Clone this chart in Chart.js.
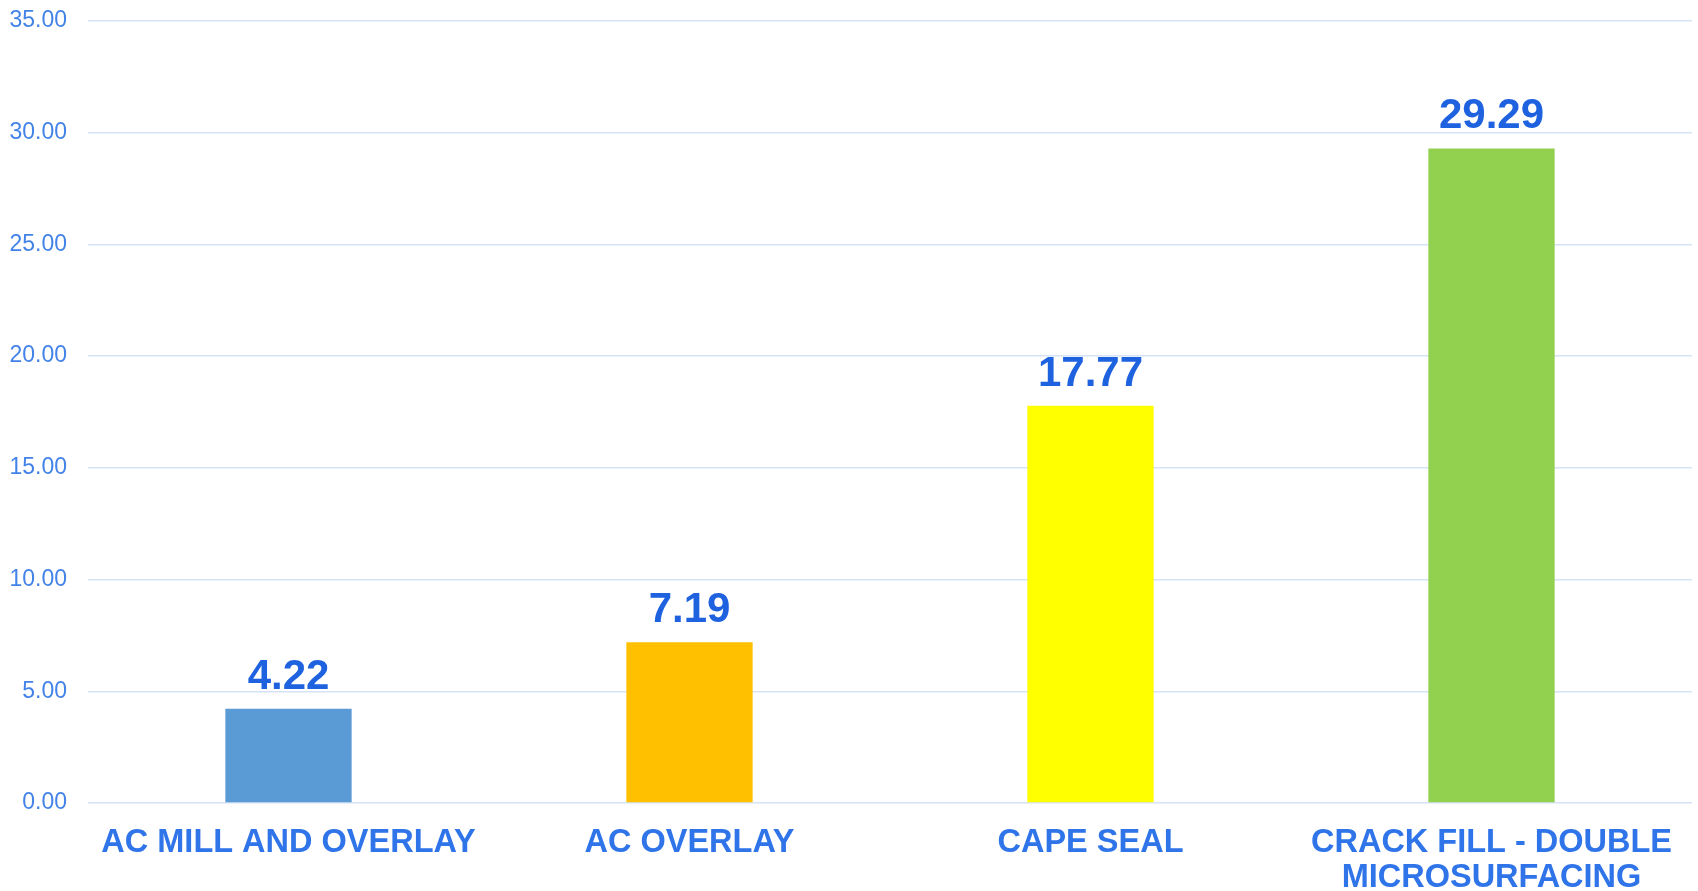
<!DOCTYPE html>
<html>
<head>
<meta charset="utf-8">
<script src="https://cdn.jsdelivr.net/npm/chart.js@4/dist/chart.umd.min.js"></script>
<style>
html,body{margin:0;padding:0;background:#fff;overflow:hidden;}
#wrap{width:1698px;height:891px;position:relative;overflow:hidden;}
#c{position:absolute;left:0;top:-14px;}
</style>
</head>
<body>
<div id="wrap"><canvas id="c" width="1698" height="905"></canvas></div>
<script>
const categories = [
  "AC MILL AND OVERLAY",
  "AC OVERLAY",
  "CAPE SEAL",
  ["CRACK FILL - DOUBLE", "MICROSURFACING"]
];
const values = [4.22, 7.19, 17.77, 29.29];
const barColors = ["#5B9BD5", "#FFC000", "#FFFF00", "#92D050"];
const yTicks = { min: 0, max: 35, step: 5 };

const valueLabels = {
  id: "valueLabels",
  afterDatasetsDraw(chart) {
    const ctx = chart.ctx;
    const meta = chart.getDatasetMeta(0);
    ctx.save();
    ctx.font = "bold 42px 'Liberation Sans', Arial, sans-serif";
    ctx.fillStyle = "#1F62E0";
    ctx.textAlign = "center";
    ctx.textBaseline = "alphabetic";
    meta.data.forEach((bar, i) => {
      ctx.fillText(values[i].toFixed(2), bar.x, bar.y - 20);
    });
    ctx.restore();
  }
};

new Chart(document.getElementById("c"), {
  type: "bar",
  data: {
    labels: categories,
    datasets: [{
      data: values,
      backgroundColor: barColors,
      borderWidth: 0,
      barPercentage: 0.315,
      categoryPercentage: 1.0
    }]
  },
  options: {
    responsive: false,
    animation: false,
    devicePixelRatio: 1,
    layout: { padding: { left: 8, right: 6, top: 0, bottom: 0 } },
    plugins: { legend: { display: false }, tooltip: { enabled: false } },
    scales: {
      x: {
        afterFit(scale) { scale.height = 88; },
        grid: { display: false, drawTicks: false },
        border: { display: false },
        ticks: {
          color: "#2F74E8",
          font: { family: "'Liberation Sans', Arial, sans-serif", size: 32.5, weight: "bold", lineHeight: 1.08 },
          padding: 22,
          maxRotation: 0,
          autoSkip: false
        }
      },
      y: {
        min: yTicks.min,
        max: yTicks.max,
        afterFit(scale) { scale.width = 80; },
        grid: { color: "#D6E2F6", lineWidth: 1.5, drawTicks: false },
        border: { display: false },
        ticks: {
          stepSize: yTicks.step,
          color: "#4383E8",
          font: { family: "'Liberation Sans', Arial, sans-serif", size: 23 },
          padding: 21,
          callback: v => Number(v).toFixed(2)
        }
      }
    }
  },
  plugins: [valueLabels]
});
</script>
</body>
</html>
